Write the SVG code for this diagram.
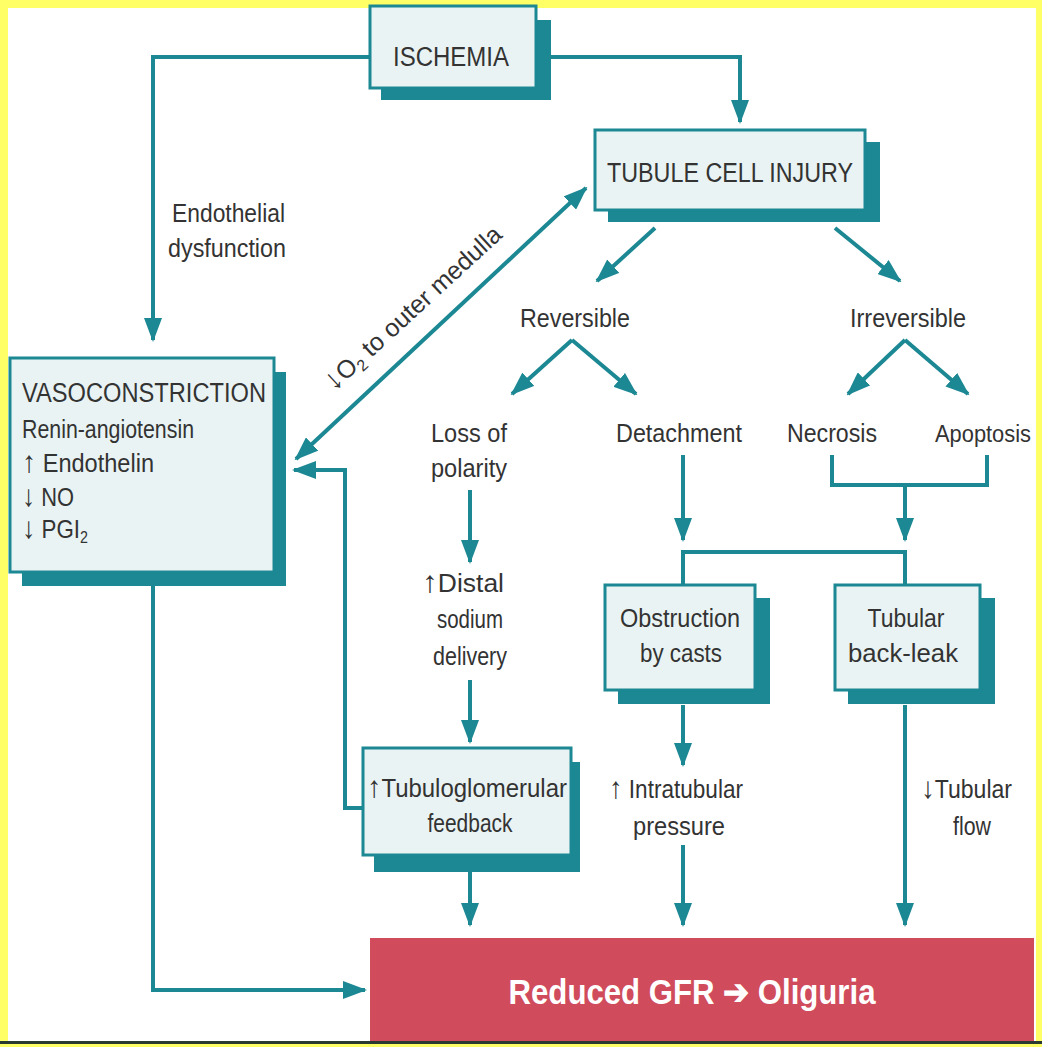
<svg xmlns="http://www.w3.org/2000/svg" width="1042" height="1047" viewBox="0 0 1042 1047">
<defs>
<marker id="ah" markerUnits="userSpaceOnUse" markerWidth="24" markerHeight="18" viewBox="0 0 24 18" refX="22" refY="9" orient="auto-start-reverse">
<path d="M0,0 L24,9 L0,18 Z" fill="#1b8893"/>
</marker>
</defs>
<style>
.bg{fill:#ffff66}
.shadow{fill:#1b8893}
.box{fill:#eaf3f4;stroke:#1b8893;stroke-width:3}
.c{fill:none;stroke:#1b8893;stroke-width:4}
.a{marker-end:url(#ah)}
text{font-family:"Liberation Sans",Arial,sans-serif;fill:#333;font-size:25px}
.m{text-anchor:middle}
.big{font-size:27px}
.sub{font-size:16px}
.w{fill:#ffffff;font-weight:bold;font-size:35px}
.ar{font-size:30px;font-weight:bold}
</style>
<rect class="bg" x="0" y="0" width="1042" height="1047"/>
<rect x="8" y="8" width="1028" height="1034" fill="#ffffff"/>
<rect x="0" y="1041" width="1042" height="3" fill="#2a3a30"/>

<g id="connectors">
<path class="c a" d="M370,57 H153 V340"/>
<path class="c a" d="M535,57 H740 V122"/>
<path class="c" d="M296,459 L586,188" marker-start="url(#ah)" marker-end="url(#ah)"/>
<path class="c a" d="M655,228 L597,281"/>
<path class="c a" d="M835,228 L900,281"/>
<path class="c a" d="M572,340 L512,394"/>
<path class="c a" d="M572,340 L636,394"/>
<path class="c a" d="M905,340 L848,394"/>
<path class="c a" d="M905,340 L968,394"/>
<path class="c a" d="M470,490 V562"/>
<path class="c a" d="M683,455 V540"/>
<path class="c" d="M683,595 V552 H905 V595"/>
<path class="c" d="M832,455 V485 H987 V455"/>
<path class="c a" d="M905,485 V540"/>
<path class="c a" d="M470,680 V742"/>
<path class="c a" d="M683,705 V765"/>
<path class="c a" d="M683,845 V925"/>
<path class="c a" d="M905,705 V925"/>
<path class="c a" d="M470,872 V925"/>
<path class="c a" d="M363,808 H345 V470 H294"/>
<path class="c a" d="M153,585 V990 H365"/>
</g>

<g id="ischemia">
<rect class="shadow" x="381" y="20" width="170" height="80"/>
<rect class="box" x="370" y="6" width="166" height="82"/>
<text class="m big" x="451" y="66" textLength="116" lengthAdjust="spacingAndGlyphs">ISCHEMIA</text>
</g>

<g id="tubule-cell-injury">
<rect class="shadow" x="608" y="142" width="272" height="80"/>
<rect class="box" x="595" y="130" width="270" height="80"/>
<text class="m big" x="730" y="182" textLength="246" lengthAdjust="spacingAndGlyphs">TUBULE CELL INJURY</text>
</g>

<g id="endothelial-label">
<text x="172" y="222" textLength="113" lengthAdjust="spacingAndGlyphs">Endothelial</text>
<text x="168" y="257" textLength="118" lengthAdjust="spacingAndGlyphs">dysfunction</text>
</g>

<g id="o2-label">
<text transform="translate(334,392) rotate(-42.5)" textLength="230" lengthAdjust="spacingAndGlyphs"><tspan class="ar">↓</tspan>O<tspan class="sub" dy="5">2</tspan><tspan dy="-5"> to outer medulla</tspan></text>
</g>

<g id="vasoconstriction">
<rect class="shadow" x="22" y="372" width="264" height="214"/>
<rect class="box" x="10" y="358" width="264" height="214"/>
<text class="big" x="22" y="402" textLength="244" lengthAdjust="spacingAndGlyphs">VASOCONSTRICTION</text>
<text x="22" y="438" textLength="172" lengthAdjust="spacingAndGlyphs">Renin-angiotensin</text>
<text x="22" y="472" textLength="132" lengthAdjust="spacingAndGlyphs"><tspan class="ar">↑</tspan> Endothelin</text>
<text x="22" y="506" textLength="52" lengthAdjust="spacingAndGlyphs"><tspan class="ar">↓</tspan> NO</text>
<text x="22" y="538" textLength="66" lengthAdjust="spacingAndGlyphs"><tspan class="ar">↓</tspan> PGI<tspan class="sub" dy="5">2</tspan></text>
</g>

<g id="reversible"><text class="m" x="575" y="327" textLength="110" lengthAdjust="spacingAndGlyphs">Reversible</text></g>
<g id="irreversible"><text class="m" x="908" y="327" textLength="116" lengthAdjust="spacingAndGlyphs">Irreversible</text></g>

<g id="loss-of-polarity">
<text class="m" x="469" y="442" textLength="76" lengthAdjust="spacingAndGlyphs">Loss of</text>
<text class="m" x="469" y="477" textLength="76" lengthAdjust="spacingAndGlyphs">polarity</text>
</g>
<g id="detachment"><text class="m" x="679" y="442" textLength="126" lengthAdjust="spacingAndGlyphs">Detachment</text></g>
<g id="necrosis"><text class="m" x="832" y="442" textLength="90" lengthAdjust="spacingAndGlyphs">Necrosis</text></g>
<g id="apoptosis"><text class="m" x="983" y="442" style="font-size:23px" textLength="96" lengthAdjust="spacingAndGlyphs">Apoptosis</text></g>

<g id="distal-sodium">
<text x="422" y="592" textLength="82" lengthAdjust="spacingAndGlyphs"><tspan class="ar">↑</tspan>Distal</text>
<text class="m" x="470" y="628" textLength="66" lengthAdjust="spacingAndGlyphs">sodium</text>
<text class="m" x="470" y="665" textLength="74" lengthAdjust="spacingAndGlyphs">delivery</text>
</g>

<g id="obstruction">
<rect class="shadow" x="618" y="598" width="152" height="106"/>
<rect class="box" x="605" y="585" width="150" height="105"/>
<text class="m" x="680" y="627" textLength="120" lengthAdjust="spacingAndGlyphs">Obstruction</text>
<text class="m" x="681" y="662" textLength="82" lengthAdjust="spacingAndGlyphs">by casts</text>
</g>

<g id="back-leak">
<rect class="shadow" x="848" y="598" width="147" height="106"/>
<rect class="box" x="835" y="585" width="145" height="105"/>
<text class="m" x="906" y="627" textLength="77" lengthAdjust="spacingAndGlyphs">Tubular</text>
<text class="m" x="903" y="662" textLength="110" lengthAdjust="spacingAndGlyphs">back-leak</text>
</g>

<g id="tubuloglomerular">
<rect class="shadow" x="374" y="762" width="206" height="110"/>
<rect class="box" x="363" y="748" width="208" height="107"/>
<text x="367" y="797" textLength="200" lengthAdjust="spacingAndGlyphs"><tspan class="ar">↑</tspan>Tubuloglomerular</text>
<text class="m" x="470" y="832" textLength="85" lengthAdjust="spacingAndGlyphs">feedback</text>
</g>

<g id="intratubular">
<text x="609" y="798" textLength="134" lengthAdjust="spacingAndGlyphs"><tspan class="ar">↑</tspan> Intratubular</text>
<text class="m" x="679" y="835" textLength="92" lengthAdjust="spacingAndGlyphs">pressure</text>
</g>

<g id="tubular-flow">
<text x="921" y="798" textLength="91" lengthAdjust="spacingAndGlyphs"><tspan class="ar">↓</tspan>Tubular</text>
<text class="m" x="972" y="835" textLength="38" lengthAdjust="spacingAndGlyphs">flow</text>
</g>

<g id="reduced-gfr">
<rect x="370" y="938" width="664" height="103" fill="#d04b5b"/>
<text class="m w" x="692" y="1004" textLength="367" lengthAdjust="spacingAndGlyphs">Reduced GFR ➔ Oliguria</text>
</g>
</svg>
